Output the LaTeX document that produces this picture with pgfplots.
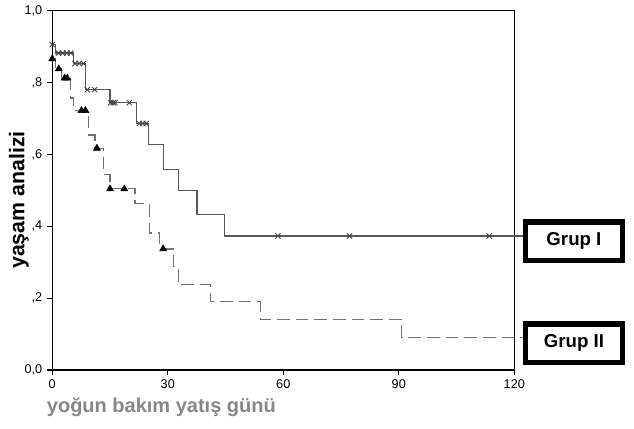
\documentclass[border=0pt]{standalone}
\usepackage{pgfplots}
\pgfplotsset{compat=1.18}
\usepackage{fontspec}
\setmainfont{Liberation Sans}

\definecolor{curveI}{gray}{0.35}
\definecolor{curveII}{gray}{0.45}
\definecolor{labelgray}{gray}{0.53}

\begin{document}
\begin{tikzpicture}
\useasboundingbox (-39.2pt,-43.5pt) rectangle (436.3pt,277.5pt);
\begin{axis}[
    at={(0,0)}, anchor=south west,
    scale only axis,
    width=346.5pt, height=269.5pt,
    xmin=0, xmax=120, ymin=0, ymax=1,
    xtick={0,30,60,90,120},
    xticklabels={0,30,60,90,120},
    ytick={0,0.2,0.4,0.6,0.8,1},
    yticklabels={{0,0},{,2},{,4},{,6},{,8},{1,0}},
    tick align=outside,
    tick pos=left,
    major tick length=4pt,
    tick style={black, line width=0.8pt},
    axis line style={line width=1.1pt},
    ticklabel style={font=\fontsize{9.5}{11}\selectfont},
    clip=false,
]

% Grup I: Kaplan-Meier egrisi
\addplot[const plot mark left, curveI, line width=0.9pt, no marks]
    coordinates {(0,0.906) (0.8,0.882) (5.6,0.853) (8.6,0.780) (15.0,0.744)
    (21.9,0.686) (24.9,0.627) (28.8,0.559) (32.7,0.499) (37.6,0.433)
    (44.8,0.373) (122.2,0.373)};
% Grup I: sansurlu gozlemler
\addplot[only marks, mark=x, mark size=2.8pt, black!75, mark options={line width=0.65pt}]
    coordinates {(0,0.906) (1.6,0.882) (2.7,0.882) (3.8,0.882) (4.8,0.882)
    (5.9,0.853) (7.0,0.853) (8.1,0.853) (9.1,0.780) (11.0,0.780)
    (15.2,0.744) (15.8,0.744) (16.3,0.744) (20.0,0.744)
    (22.6,0.686) (23.5,0.686) (24.4,0.686)
    (58.6,0.373) (77.2,0.373) (113.5,0.373)};

% Grup II: Kaplan-Meier egrisi
\addplot[const plot mark left, curveII, line width=0.9pt, no marks,
    dash pattern=on 9.5pt off 4.5pt]
    coordinates {(0,0.866) (0.8,0.838) (2.3,0.812) (4.8,0.757) (5.6,0.722)
    (9.5,0.654) (11.1,0.617) (13.4,0.543) (15.0,0.504) (21.5,0.464)
    (25.2,0.381) (27.8,0.337) (31.4,0.288) (32.7,0.238) (41.0,0.190)
    (54.0,0.141) (90.8,0.091) (122.2,0.091)};
% Grup II: sansurlu gozlemler
\addplot[only marks, mark=triangle*, mark size=3pt, black]
    coordinates {(0,0.866) (1.7,0.838) (3.2,0.812) (3.9,0.812)
    (7.6,0.722) (8.6,0.722) (11.6,0.617) (15.0,0.504) (18.7,0.504)
    (28.8,0.337)};

% grup kutulari
\node[draw, line width=4pt, minimum width=72.5pt, minimum height=29pt,
    font=\fontsize{14}{16}\selectfont\bfseries, fill=white]
    at (axis cs:135.5,0.358) {Grup I};
\node[draw, line width=4pt, minimum width=72.5pt, minimum height=29pt,
    font=\fontsize{14}{16}\selectfont\bfseries, fill=white]
    at (axis cs:135.5,0.074) {Grup II};

% eksen basliklari
\node[anchor=west, text=labelgray, font=\fontsize{15}{17}\selectfont\bfseries,
    inner sep=0pt]
    at ([xshift=-4.2pt, yshift=-28pt]rel axis cs:0,0) {yoğun bakım yatış günü};
\node[rotate=90, font=\fontsize{16}{18}\selectfont\bfseries, inner sep=0pt]
    at ([xshift=-25pt]rel axis cs:0,0.473) {yaşam analizi};

\end{axis}
\end{tikzpicture}
\end{document}
